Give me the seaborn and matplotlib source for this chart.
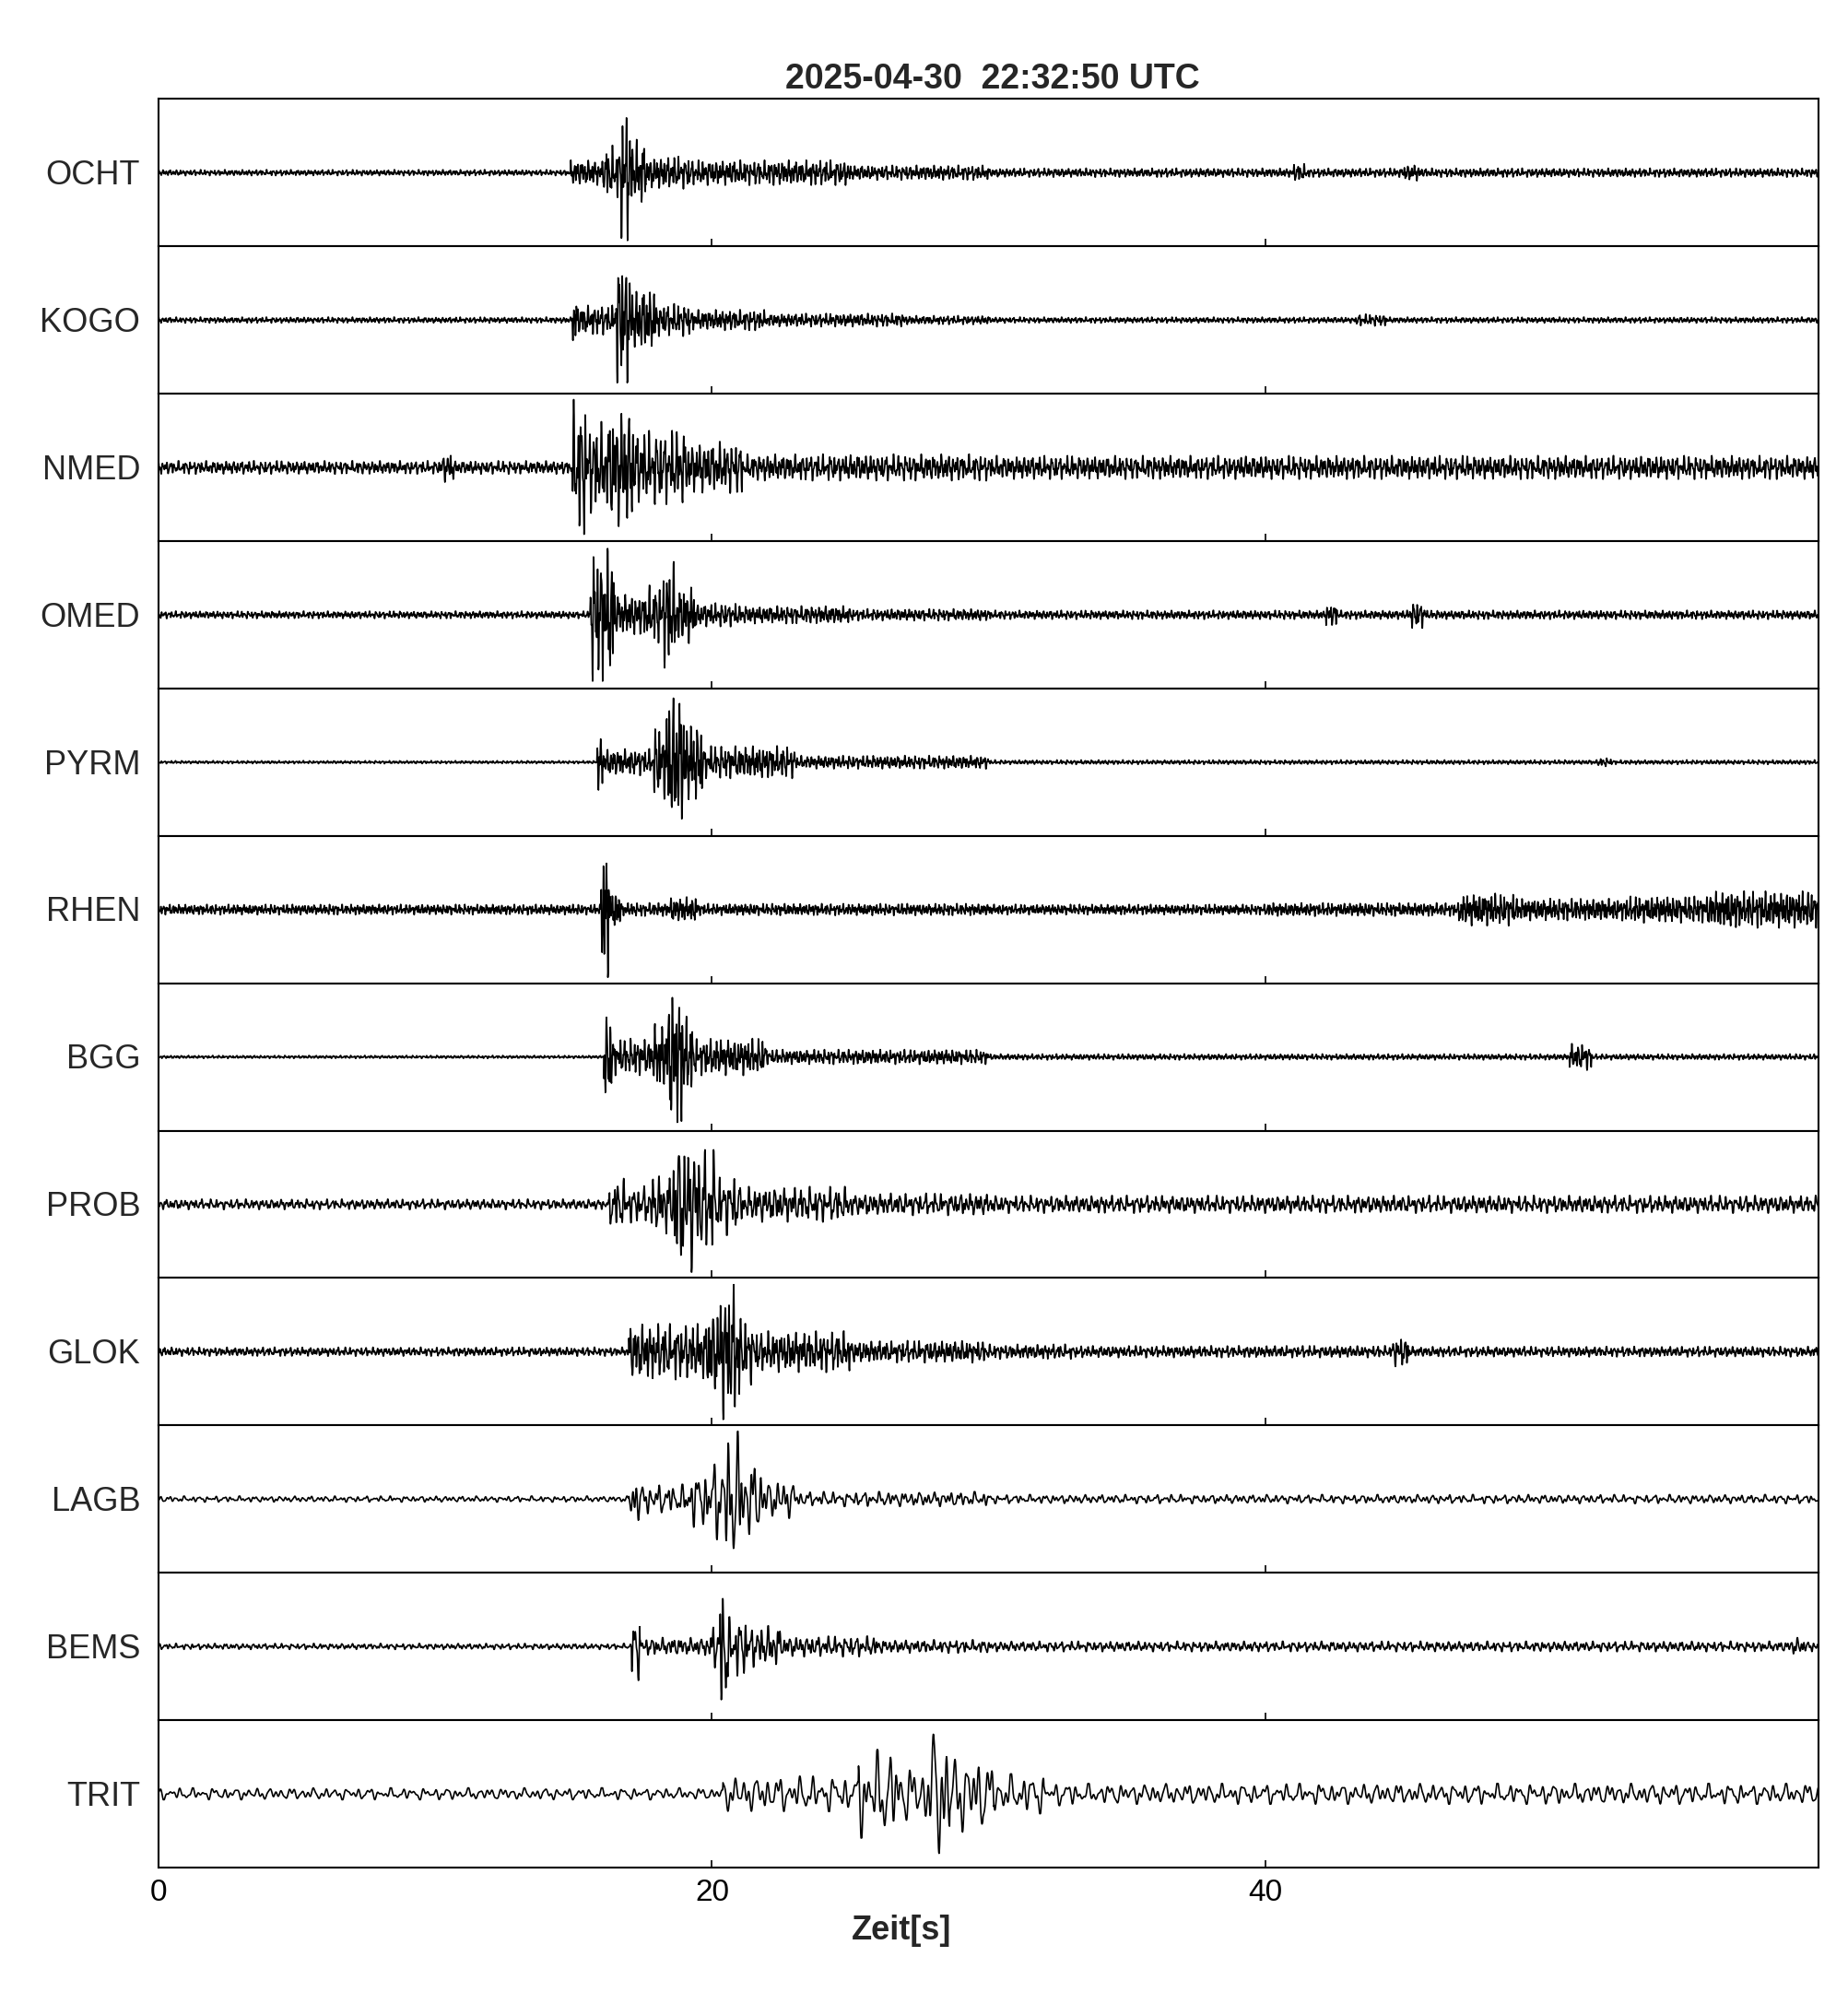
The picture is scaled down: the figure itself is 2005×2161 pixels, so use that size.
import numpy as np
import pandas as pd
import matplotlib
matplotlib.use("Agg")
import matplotlib.pyplot as plt
import seaborn as sns

# station order (top to bottom)
stations = ["OCHT", "KOGO", "NMED", "OMED", "PYRM", "RHEN",
            "BGG", "PROB", "GLOK", "LAGB", "BEMS", "TRIT"]

# envelope: start time of each segment [s] and
# peak amplitude in that segment [% of half panel height]
OCHT_T = [0, 14.9, 16.1, 16.7, 17.05, 17.6, 19.2, 25.0, 30.0, 41.0, 41.5, 45.0, 45.6]
OCHT_A = [4, 17, 37, 92, 45, 22, 17, 10, 6, 12, 6, 11, 6]
KOGO_T = [0, 14.95, 15.15, 16.5, 17.05, 18.0, 19.2, 21.9, 27.0, 30.0, 43.3, 44.4]
KOGO_A = [4, 35, 20, 85, 43, 22, 14, 9, 6, 4, 8, 4]
NMED_T = [0, 10.2, 10.7, 14.95, 15.5, 16.3, 17.2, 19.1, 21.1, 30.0]
NMED_A = [9, 20, 9, 92, 62, 80, 50, 35, 18, 16]
OMED_T = [0, 15.6, 16.5, 17.6, 18.2, 18.7, 19.4, 21.0, 25.0, 30.0, 42.2, 42.6, 45.2, 45.8]
OMED_A = [5, 90, 28, 40, 72, 40, 16, 12, 8, 6, 15, 6, 18, 6]
PYRM_T = [0, 15.85, 16.05, 17.9, 18.3, 19.0, 19.7, 23.0, 30.0, 52.0, 52.5]
PYRM_A = [2, 38, 18, 50, 92, 55, 22, 9, 3, 6, 3]
RHEN_T = [0, 16.0, 16.3, 16.7, 18.5, 19.5, 30.0, 40.0, 47.0, 49.0, 53.0, 56.0]
RHEN_A = [7, 92, 26, 9, 17, 8, 7, 9, 22, 15, 18, 25]
BGG_T = [0, 16.1, 16.4, 17.9, 18.4, 19.0, 19.3, 22.0, 30.0, 51.0, 51.8]
BGG_A = [2, 60, 25, 45, 92, 55, 25, 10, 4, 18, 4]
PROB_T = [0, 16.3, 17.0, 17.8, 18.6, 19.4, 20.1, 21.0, 25.0, 30.0]
PROB_A = [7, 35, 25, 40, 92, 74, 42, 24, 15, 12]
GLOK_T = [0, 17.0, 19.8, 20.3, 21.0, 21.5, 25.0, 30.0, 33.0, 44.6, 45.2]
GLOK_A = [6, 38, 62, 92, 45, 28, 15, 10, 8, 20, 7]
LAGB_T = [0, 17.0, 17.4, 19.0, 19.8, 20.5, 21.1, 21.8, 23.0, 30.0]
LAGB_A = [4, 33, 20, 38, 55, 92, 52, 26, 10, 6]
BEMS_T = [0, 17.1, 17.4, 19.9, 20.3, 20.6, 21.3, 22.5, 26.0, 30.0, 59.0, 59.5]
BEMS_A = [4, 46, 12, 30, 98, 40, 28, 14, 9, 7, 12, 7]
TRIT_T = [0, 20.4, 25.3, 26.8, 27.8, 28.6, 29.8, 30.2, 32.0, 33.5]
TRIT_A = [8, 24, 60, 38, 92, 52, 45, 27, 16, 14]

# dominant wiggle frequency of each trace [Hz]
dominant_hz = [8, 8, 7, 8, 8, 9, 8, 5.5, 7, 3.5, 5, 2.5]

knots = [(OCHT_T, OCHT_A), (KOGO_T, KOGO_A), (NMED_T, NMED_A), (OMED_T, OMED_A),
         (PYRM_T, PYRM_A), (RHEN_T, RHEN_A), (BGG_T, BGG_A), (PROB_T, PROB_A),
         (GLOK_T, GLOK_A), (LAGB_T, LAGB_A), (BEMS_T, BEMS_A), (TRIT_T, TRIT_A)]

title = "2025-04-30  22:32:50 UTC"
xticks = [0, 20, 40]

t = np.arange(0, 60.0, 0.01)
rows = []
for k, name in enumerate(stations):
    T, A = knots[k]
    idx = np.searchsorted(T, t, side="right") - 1
    env = np.array(A, dtype=float)[idx] / 100.0
    f = dominant_hz[k]
    wave = (0.35 * np.sin(2 * np.pi * f * t + 0.7 * k)
            + 0.25 * np.sin(2 * np.pi * 1.73 * f * t + 1.1 + k)
            + 0.2 * np.sin(2 * np.pi * 2.41 * f * t + 0.4 * k)
            + 0.2 * np.sin(2 * np.pi * 0.57 * f * t + 2.3))
    amp = np.clip(1.25 * env * wave, -env, env)
    rows.append(pd.DataFrame({"station": name, "t": t, "amp": amp}))
df = pd.concat(rows, ignore_index=True)

sns.set_theme(style="ticks")
plt.rcParams["font.family"] = ["Liberation Sans", "DejaVu Sans"]

fig, axes = plt.subplots(12, 1, figsize=(20.05, 21.61), dpi=100, sharex=True)
fig.subplots_adjust(left=0.0858, right=0.9841, top=0.9503, bottom=0.0625, hspace=0)

for ax, name in zip(axes, stations):
    d = df[df["station"] == name]
    sns.lineplot(data=d, x="t", y="amp", ax=ax, color="black", linewidth=1.2,
                 estimator=None, sort=False)
    ax.set_xlim(0, 60)
    ax.set_ylim(-1, 1)
    ax.set_yticks([])
    ax.set_ylabel("")
    ax.set_xlabel("")
    ax.set_xticks(xticks)
    ax.tick_params(axis="x", direction="in", length=6, width=1.2, top=False,
                   labelsize=24, pad=9, colors="black")
    for s in ax.spines.values():
        s.set_linewidth(1.5)
        s.set_color("black")
    ax.text(-0.011, 0.48, name, transform=ax.transAxes, ha="right", va="center",
            fontsize=26)

fig.text(0.537, 1 - 86 / 2161, title, ha="center", va="center",
         fontsize=27, fontweight="bold")
fig.text(0.488, 1 - 2095 / 2161, "Zeit[s]", ha="center", va="center",
         fontsize=26, fontweight="bold")

fig.savefig("out.png", dpi=100, facecolor="white")
